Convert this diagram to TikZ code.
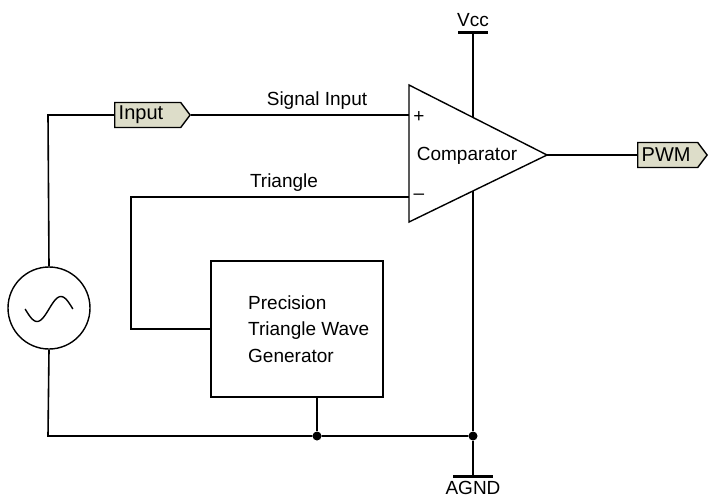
\documentclass[tikz,border=0pt]{standalone}
\usepackage{fontspec}
\setmainfont{Liberation Sans}
\usetikzlibrary{shapes.symbols,calc}
\definecolor{tagfill}{RGB}{221,221,201}
\begin{document}
\begin{tikzpicture}[x=1pt,y=-1pt,
  wire/.style={line width=1.6pt},
  lbl/.style={font=\fontsize{19}{22}\selectfont, inner sep=0pt},
  tag/.style={signal, signal to=east, draw, line width=1.4pt, fill=tagfill,
     minimum height=25pt, signal pointer angle=106, inner xsep=4pt, inner ysep=1pt,
     align=left, font=\fontsize{20}{22}\selectfont},
  dot/.style={circle, fill=black, inner sep=0pt, minimum size=9pt}]
\useasboundingbox (0,0) rectangle (709,499);

% comparator
\coordinate (opTL) at (409,85);
\coordinate (opBL) at (409,222);
\coordinate (opOut) at (547,155);
\coordinate (opP) at (409,115);
\coordinate (opN) at (409,197);
\coordinate (opV) at (473,117.5);
\coordinate (opG) at (473,191.4);
\draw[line width=1.4pt] (opTL) -- (opOut) -- (opBL) -- cycle;
\node[lbl] (comp) at (467,156) {Comparator};
\node[lbl] (plus) at (419,117) {+};
\node[lbl] (minus) at (419,197) {\textendash};

% Vcc
\coordinate (vccbar) at (473,32);
\draw[line width=3pt] (458,32) -- (488,32);
\node[lbl, anchor=south] (vcc) at (473,27) {Vcc};
\draw[wire] (vccbar) -- (opV);

% AGND
\coordinate (gndbar) at (473,476);
\draw[line width=3pt] (453,476) -- (493,476);
\node[lbl, anchor=north] (agnd) at (473,481) {AGND};

% tags
\node[tag, text width=58pt, anchor=west] (input) at (114,115) {Input};
\node[tag, text width=52pt, anchor=west] (pwm) at (637,155) {PWM};

% source
\node[circle, draw, line width=1.4pt, minimum size=82pt, inner sep=0pt] (src) at (49,308) {};
\draw[line width=1.4pt] plot[domain=-3.1416:3.1416, samples=40] ({49+8*\x*0.95}, {309-12.5*sin(\x r)});

% generator box
\node[draw, line width=1.4pt, minimum width=172pt, minimum height=136pt, inner sep=0pt] (gen) at (297,329) {};
\node[lbl, align=left, anchor=west, font=\fontsize{19}{26.5}\selectfont] (gentext) at (248,329) {Precision\\Triangle Wave\\Generator};

% junctions
\node[dot] (j1) at (317,436) {};
\node[dot] (j2) at (473,436) {};
\coordinate (bl) at (48,436);
\coordinate (tl) at (48,115);
\coordinate (tri) at (131,197);

% wires
\draw[wire] (src.north) -- (tl) -- (input.west);
\draw[wire] (input.east) -- (opP);
\node[lbl] (siglbl) at (317,101) {Signal Input};
\draw[wire] (opOut) -- (pwm.west);
\draw[wire] (opN) -- (tri) |- (gen.west);
\node[lbl] (trilbl) at (284,183) {Triangle};
\draw[wire] (src.south) -- (bl) -- (j1) -- (j2);
\draw[wire] (gen.south -| j1) -- (j1);
\draw[wire] (opG) -- (j2) -- (gndbar);
\end{tikzpicture}
\end{document}
